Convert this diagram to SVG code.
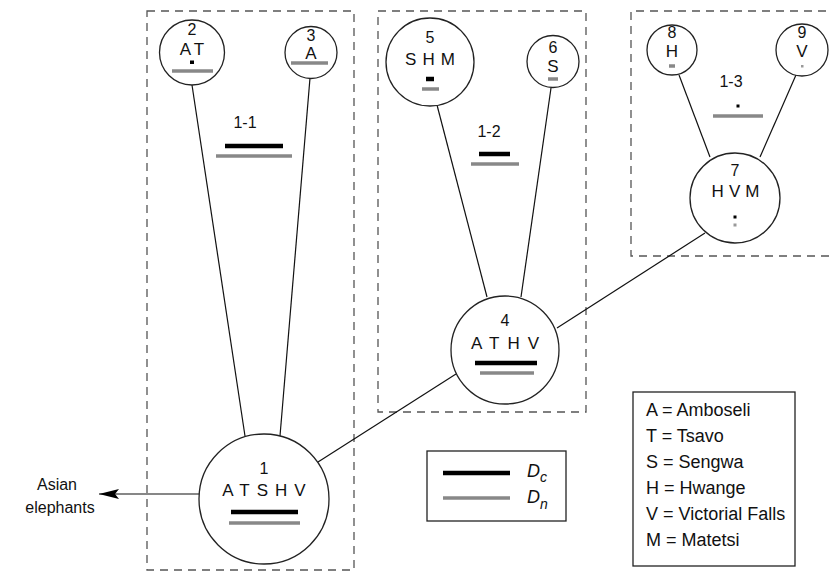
<svg xmlns="http://www.w3.org/2000/svg" width="830" height="571" viewBox="0 0 830 571">
<style>
.box{fill:none;stroke:#555;stroke-width:1.3;stroke-dasharray:8 6}
.edge{stroke:#111;stroke-width:1.2;fill:none}
.node{fill:#fff;stroke:#222;stroke-width:1.3}
.num{font-family:"Liberation Sans",Arial,sans-serif;font-size:16px;fill:#111;text-anchor:middle}
.lab{font-family:"Liberation Sans",Arial,sans-serif;font-size:17px;fill:#111;text-anchor:middle}
.bk{stroke:#000;stroke-width:4.5}
.gr{stroke:#888;stroke-width:3.5}
.leg{font-family:"Liberation Sans",Arial,sans-serif;font-size:18px;fill:#111}
.frame{fill:#fff;stroke:#222;stroke-width:1.3}
</style>
<defs>
<marker id="arr" markerUnits="userSpaceOnUse" viewBox="0 0 20 10" refX="20" refY="5" markerWidth="20" markerHeight="10" orient="auto">
<path d="M0,0 L20,5 L0,10 L4,5 z" fill="#000"/>
</marker>
</defs>
<g id="groups">
<rect class="box" x="147" y="11" width="207" height="559"/>
<rect class="box" x="378" y="11" width="208" height="401"/>
<path class="box" d="M840,11 H631 V256 H840"/>
</g>
<g id="connectors">
<line class="edge" x1="199" y1="494" x2="99" y2="494" marker-end="url(#arr)"/>
<line class="edge" x1="318" y1="462" x2="456" y2="374"/>
<line class="edge" x1="192" y1="85" x2="245" y2="436"/>
<line class="edge" x1="310" y1="78" x2="280" y2="436"/>
<line class="edge" x1="437" y1="105" x2="487" y2="297"/>
<line class="edge" x1="551" y1="88" x2="521" y2="297"/>
<line class="edge" x1="557" y1="328" x2="705" y2="233"/>
<line class="edge" x1="679" y1="75" x2="710" y2="157"/>
<line class="edge" x1="796" y1="75" x2="760" y2="157"/>
</g>
<g id="n1">
<circle class="node" cx="264" cy="499" r="65"/>
<text class="num" x="264" y="474">1</text>
<text class="lab" x="267.5" y="496" letter-spacing="7">ATSHV</text>
<line class="bk" x1="231" y1="512" x2="298" y2="512"/>
<line class="gr" x1="229" y1="523" x2="300" y2="523"/>
</g>
<g id="n2">
<circle class="node" cx="192" cy="52.5" r="32.5"/>
<text class="num" x="192" y="35">2</text>
<text class="lab" x="194" y="55" letter-spacing="4">AT</text>
<rect x="190" y="60.5" width="4" height="3.5" fill="#000"/>
<line class="gr" x1="172" y1="71" x2="213" y2="71"/>
</g>
<g id="n3">
<circle class="node" cx="311" cy="52.5" r="26"/>
<text class="num" x="311" y="41" font-size="15">3</text>
<text class="lab" x="311" y="58.5" font-size="16">A</text>
<line class="gr" x1="291" y1="63" x2="328" y2="63"/>
</g>
<g id="n4">
<circle class="node" cx="505" cy="350" r="54"/>
<text class="num" x="505" y="326">4</text>
<text class="lab" x="509" y="349" letter-spacing="8">ATHV</text>
<line class="bk" x1="475" y1="363" x2="537" y2="363"/>
<line class="gr" x1="480" y1="373" x2="534" y2="373"/>
</g>
<g id="n5">
<circle class="node" cx="430" cy="62" r="44"/>
<text class="num" x="430" y="43">5</text>
<text class="lab" x="433" y="65" letter-spacing="6">SHM</text>
<line class="bk" x1="426" y1="79" x2="434" y2="79" stroke-width="3.5"/>
<line class="gr" x1="422" y1="89" x2="439" y2="89" stroke-width="3"/>
</g>
<g id="n6">
<circle class="node" cx="553" cy="61.5" r="26"/>
<text class="num" x="553" y="53">6</text>
<text class="lab" x="553" y="72">S</text>
<line class="gr" x1="548" y1="79" x2="558" y2="79" stroke-width="1.6"/>
</g>
<g id="n7">
<circle class="node" cx="735" cy="198" r="45"/>
<text class="num" x="735" y="176">7</text>
<text class="lab" x="738" y="197" letter-spacing="5">HVM</text>
<rect x="733.5" y="215.5" width="3" height="3" fill="#000"/>
<rect x="733.5" y="223.5" width="3" height="3" fill="#999"/>
</g>
<g id="n8">
<circle class="node" cx="672" cy="50" r="25"/>
<text class="num" x="672" y="38">8</text>
<text class="lab" x="672" y="57">H</text>
<line class="gr" x1="669" y1="66" x2="675" y2="66" stroke-width="2"/>
</g>
<g id="n9">
<circle class="node" cx="802" cy="50" r="26"/>
<text class="num" x="802" y="38">9</text>
<text class="lab" x="802" y="57">V</text>
<rect x="801" y="65" width="2.5" height="2.5" fill="#999"/>
</g>
<g id="split-1-1">
<text class="num" x="245" y="128">1-1</text>
<line class="bk" x1="225" y1="146" x2="283" y2="146" stroke-width="3"/>
<line class="gr" x1="216" y1="156" x2="292" y2="156" stroke-width="2.5"/>
</g>
<g id="split-1-2">
<text class="num" x="489" y="137">1-2</text>
<line class="bk" x1="479" y1="154" x2="510" y2="154"/>
<line class="gr" x1="471" y1="164" x2="519" y2="164"/>
</g>
<g id="split-1-3">
<text class="num" x="731" y="87">1-3</text>
<rect x="736.5" y="104.5" width="3" height="3" fill="#000"/>
<line class="gr" x1="713" y1="116" x2="763" y2="116" stroke-width="3"/>
</g>
<g id="asian">
<text class="num" x="57" y="490">Asian</text>
<text class="num" x="60" y="513">elephants</text>
</g>
<g id="legend-d">
<rect class="frame" x="427" y="451" width="139" height="70"/>
<line class="bk" x1="443" y1="473" x2="510" y2="473"/>
<line class="gr" x1="443" y1="498" x2="510" y2="498"/>
<text class="leg" x="527" y="477" font-style="italic">D<tspan font-size="14" dy="5">c</tspan></text>
<text class="leg" x="527" y="503" font-style="italic">D<tspan font-size="14" dy="6">n</tspan></text>
</g>
<g id="legend-sites">
<rect class="frame" x="633" y="392" width="162" height="174"/>
<text class="leg" x="646" y="416">A = Amboseli</text>
<text class="leg" x="646" y="442">T = Tsavo</text>
<text class="leg" x="646" y="468">S = Sengwa</text>
<text class="leg" x="646" y="494">H = Hwange</text>
<text class="leg" x="646" y="520">V = Victorial Falls</text>
<text class="leg" x="646" y="546">M = Matetsi</text>
</g>
</svg>
